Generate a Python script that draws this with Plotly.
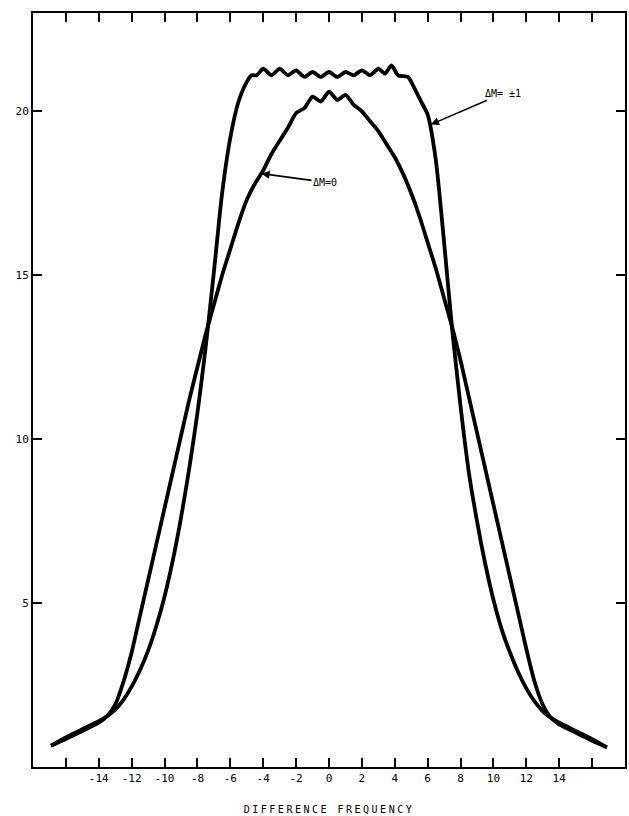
import plotly.graph_objects as go

# Difference frequency (x) and intensity values
x_pm1 = [-16.9, -16, -15, -14, -13.5, -13, -12.5, -12, -11.5, -11, -10.5, -10, -9.5, -9, -8.5, -8, -7.5,
         -7, -6.5, -6, -5.5, -5.0, -4.7, -4.4, -4.0, -3.5, -3.0, -2.5, -2.0, -1.5, -1.0, -0.5, 0,
         0.5, 1.0, 1.5, 2.0, 2.5, 3.0, 3.4, 3.8, 4.2, 4.8, 5.2, 5.6, 6.0, 6.5, 7.0, 7.5, 8, 8.5,
         9, 9.5, 10, 10.5, 11, 11.5, 12, 12.5, 13, 13.5, 14, 15, 16, 16.9]
y_pm1 = [0.65, 0.9, 1.15, 1.4, 1.55, 1.75, 2.05, 2.45, 2.95, 3.55, 4.3, 5.2, 6.3, 7.6, 9.1, 10.8, 12.8,
         15.1, 17.5, 19.2, 20.3, 20.9, 21.1, 21.1, 21.3, 21.1, 21.3, 21.1, 21.25, 21.05, 21.2, 21.05, 21.2,
         21.05, 21.2, 21.1, 21.25, 21.1, 21.3, 21.15, 21.4, 21.1, 21.05, 20.7, 20.3, 19.9, 18.5, 16.0, 13.3, 11.0, 9.0,
         7.5, 6.2, 5.1, 4.2, 3.5, 2.9, 2.4, 2.0, 1.7, 1.5, 1.35, 1.1, 0.85, 0.6]

x_0 = [-16.9, -16, -15, -14, -13.5, -13, -12.5, -12, -11.5, -11, -10.5, -10, -9.5, -9, -8.5, -8, -7.5,
       -7, -6.5, -6, -5.5, -5, -4.5, -4, -3.5, -3, -2.5, -2, -1.5, -1, -0.5, 0, 0.5, 1, 1.5, 2,
       2.5, 3, 3.5, 4, 4.5, 5, 5.5, 6, 6.5, 7, 7.5, 8, 8.5, 9, 9.5, 10, 10.5, 11, 11.5, 12,
       12.5, 13, 13.5, 14, 15, 16, 16.9]
y_0 = [0.65, 0.85, 1.1, 1.35, 1.55, 1.9, 2.6, 3.5, 4.6, 5.7, 6.8, 7.9, 9.0, 10.1, 11.2, 12.2, 13.2,
       14.1, 15.0, 15.8, 16.6, 17.3, 17.8, 18.2, 18.7, 19.1, 19.5, 19.95, 20.1, 20.45, 20.3, 20.6, 20.35, 20.5, 20.2, 20.0,
       19.7, 19.4, 19.0, 18.6, 18.1, 17.5, 16.8, 16.0, 15.2, 14.3, 13.4, 12.4, 11.3, 10.2, 9.1, 8.0, 6.9, 5.8, 4.7, 3.6,
       2.6, 1.9, 1.5, 1.3, 1.05, 0.8, 0.6]

x_tickvals = [-16, -14, -12, -10, -8, -6, -4, -2, 0, 2, 4, 6, 8, 10, 12, 14, 16]
x_ticktext = ["", "-14", "-12", "-10", "-8", "-6", "-4", "-2", "0", "2", "4", "6", "8", "10", "12", "14", ""]
y_tickvals = [5, 10, 15, 20]
y_ticktext = ["5", "10", "15", "20"]

FONT = "DejaVu Sans Mono"

fig = go.Figure()
fig.add_trace(go.Scatter(x=x_0, y=y_0, mode="lines",
                         line=dict(color="black", width=3.8, shape="spline", smoothing=0.6),
                         hoverinfo="skip", showlegend=False))
fig.add_trace(go.Scatter(x=x_pm1, y=y_pm1, mode="lines",
                         line=dict(color="black", width=3.8, shape="spline", smoothing=0.6),
                         hoverinfo="skip", showlegend=False))

fig.add_annotation(x=-4.1, y=18.1, ax=-0.24, ay=17.84, axref="x", ayref="y",
                   text="ΔM=0", showarrow=True, arrowhead=2, arrowsize=1, arrowwidth=1.6,
                   arrowcolor="black", font=dict(family=FONT, size=10, color="black"))
fig.add_annotation(x=6.2, y=19.6, ax=10.6, ay=20.55, axref="x", ayref="y",
                   text="ΔM= ±1", showarrow=True, arrowhead=2, arrowsize=1, arrowwidth=1.6,
                   arrowcolor="black", font=dict(family=FONT, size=10, color="black"))

fig.update_layout(
    width=629, height=816,
    margin=dict(l=33, r=2, t=13, b=49),
    paper_bgcolor="white", plot_bgcolor="white",
    font=dict(family=FONT, size=11, color="black"),
    xaxis=dict(range=[-18, 18], tickvals=x_tickvals, ticktext=x_ticktext,
               ticks="inside", ticklen=9, tickwidth=2, tickcolor="black",
               showline=True, linecolor="black", linewidth=2, mirror="ticks",
               showgrid=False, zeroline=False,
               title=dict(text='<span style="letter-spacing:2.5px">DIFFERENCE FREQUENCY</span>',
                          font=dict(family=FONT, size=10, color="black"), standoff=22),
               tickfont=dict(family=FONT, size=11, color="black")),
    yaxis=dict(range=[0, 23], tickvals=y_tickvals, ticktext=y_ticktext,
               ticks="inside", ticklen=9, tickwidth=2, tickcolor="black",
               showline=True, linecolor="black", linewidth=2, mirror="ticks",
               showgrid=False, zeroline=False,
               tickfont=dict(family=FONT, size=11, color="black")),
)

fig.write_html("out.html", config={"displayModeBar": False},
               post_script="document.body.style.margin='0px';document.body.style.overflow='hidden';")
